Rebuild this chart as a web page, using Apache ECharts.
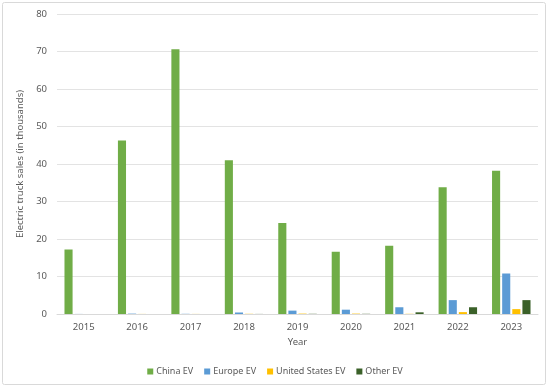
<!DOCTYPE html>
<html><head><meta charset="utf-8">
<script src="https://cdn.jsdelivr.net/npm/echarts@6/dist/echarts.min.js"></script>
<style>html,body{margin:0;padding:0;background:#fff}#c{width:550px;height:390px}</style>
</head><body><div id="c"></div>
<script>
const years = ['2015','2016','2017','2018','2019','2020','2021','2022','2023'];
const chinaEV = [17.2, 46.3, 70.6, 41.0, 24.3, 16.6, 18.2, 33.8, 38.2];
const europeEV = [0.02, 0.1, 0.05, 0.4, 0.9, 1.15, 1.8, 3.7, 10.8];
const usEV = [0, 0.02, 0.02, 0.05, 0.1, 0.1, 0.05, 0.5, 1.3];
const otherEV = [0, 0, 0, 0.02, 0.05, 0.05, 0.45, 1.8, 3.7];
const yTicks = [0, 10, 20, 30, 40, 50, 60, 70, 80];

const txt = '#595959';
const font = 'Noto Sans';
const chart = echarts.init(document.getElementById('c'));
function s(name, data, color) {
  return {name, type:'bar', data, barGap:'25%', barCategoryGap:'28%',
    itemStyle:{color}, emphasis:{disabled:true}};
}
chart.setOption({
  animation:false,
  textStyle:{fontFamily:font},
  graphic:[{type:'rect', shape:{x:2.5,y:2.5,width:543,height:382,r:2}, style:{fill:'none', stroke:'#d9d9d9', lineWidth:1}, silent:true}],
  grid:{left:57, right:12, top:14, bottom:76},
  legend:{bottom:9, left:'center', itemWidth:6, itemHeight:6, itemGap:11, icon:'rect',
    textStyle:{color:txt, fontSize:9, fontFamily:font, padding:[0,0,0,-2]}},
  xAxis:{type:'category', data:years, name:'Year', nameLocation:'middle', nameGap:21,
    nameTextStyle:{color:txt, fontSize:9.5},
    axisLine:{lineStyle:{color:'#d9d9d9'}}, axisTick:{show:false},
    axisLabel:{color:txt, fontSize:9.5, margin:8}},
  yAxis:{type:'value', min:yTicks[0], max:yTicks[yTicks.length-1], interval:10,
    name:'Electric truck sales (in thousands)', nameLocation:'middle', nameGap:30,
    nameTextStyle:{color:txt, fontSize:9.5},
    axisLine:{show:false}, axisTick:{show:false},
    axisLabel:{color:txt, fontSize:9.5, margin:10},
    splitLine:{lineStyle:{color:'#e3e3e3'}}},
  series:[
    s('China EV', chinaEV, '#70AD47'),
    s('Europe EV', europeEV, '#5B9BD5'),
    s('United States EV', usEV, '#FFC000'),
    s('Other EV', otherEV, '#3B6129')
  ]
});
</script></body></html>
